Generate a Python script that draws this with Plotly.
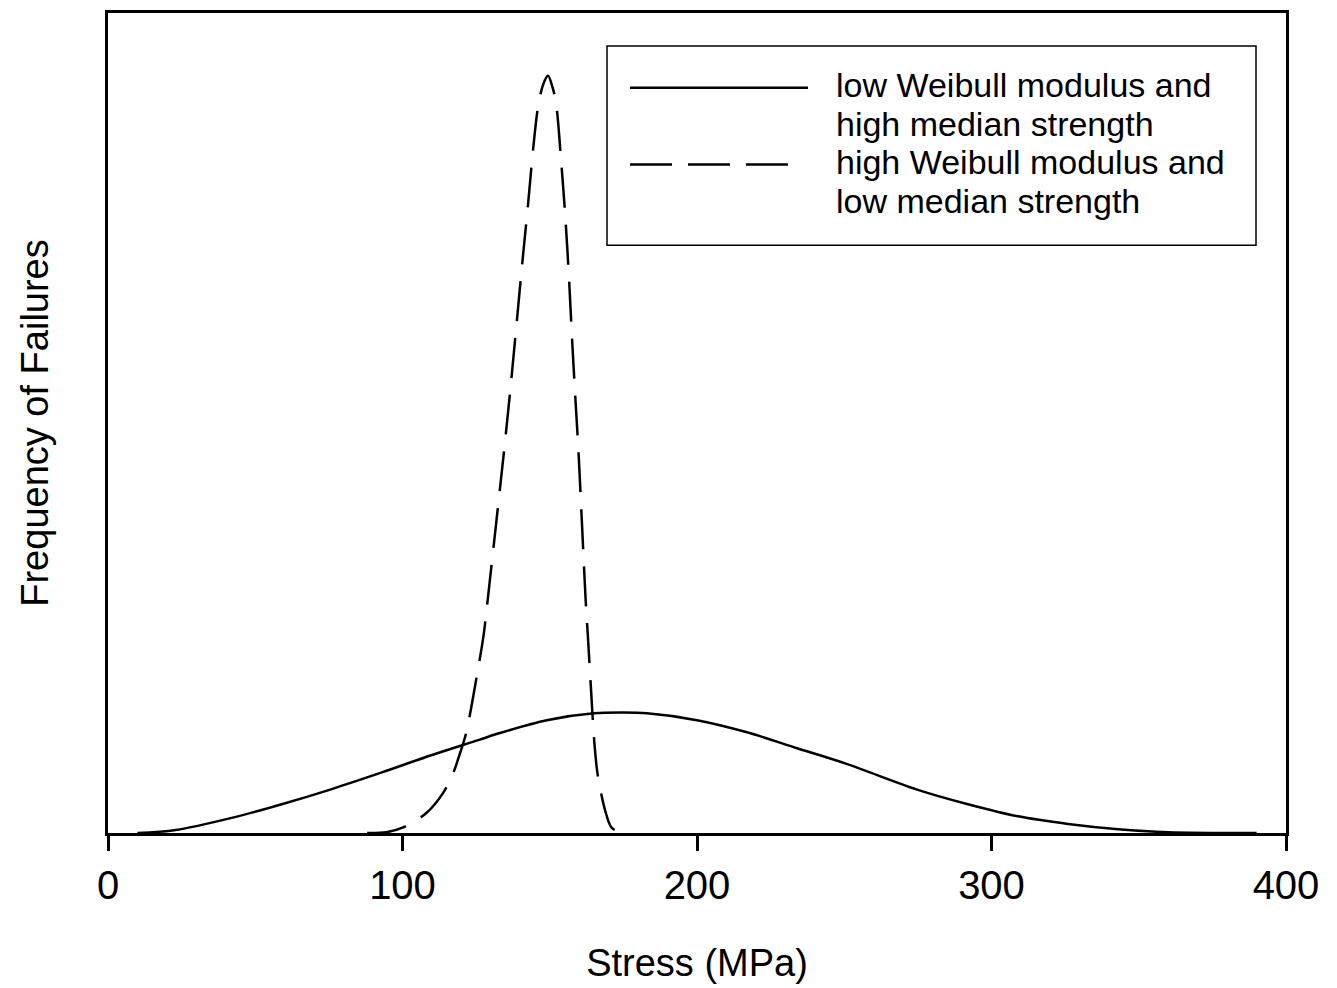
import plotly.graph_objects as go

# Stress (MPa) and relative failure frequency
low_m_stress = [10, 23, 42, 59, 76, 93, 110, 126, 133, 149, 165, 175, 183, 200, 217,
                234, 251, 275, 292, 309, 326, 343, 360, 390]
low_m_freq = [0.000, 0.004, 0.020, 0.038, 0.058, 0.080, 0.103, 0.123, 0.132, 0.149,
              0.158, 0.159, 0.158, 0.149, 0.133, 0.112, 0.091, 0.057, 0.038,
              0.022, 0.012, 0.005, 0.001, 0.000]

high_m_stress = [88, 94.5, 100, 108, 113.8, 117.2, 119.5, 121.6, 125.4, 127.6, 128.9,
                 134.9, 136.8, 138.8, 140.6, 142.6, 144.4, 146.1, 147.8, 149.4, 151,
                 152.2, 153.9, 155.4, 156.6, 157.6, 158.7, 159.7, 162.2, 162.9, 164.1,
                 165.1, 166.2, 168.8, 171, 174.5]
high_m_freq = [0.000, 0.001, 0.007, 0.026, 0.053, 0.079, 0.105, 0.132, 0.211, 0.263,
               0.307, 0.520, 0.593, 0.675, 0.750, 0.829, 0.905, 0.961, 0.989, 1.000,
               0.984, 0.962, 0.886, 0.807, 0.728, 0.651, 0.574, 0.508, 0.307, 0.263,
               0.184, 0.122, 0.079, 0.030, 0.007, 0.000]

x_ticks = [0, 100, 200, 300, 400]
legend_lines = ["low Weibull modulus and", "high median strength",
                "high Weibull modulus and", "low median strength"]

FONT = "Arial, Liberation Sans, sans-serif"

fig = go.Figure()
fig.add_trace(go.Scatter(x=low_m_stress, y=low_m_freq, mode="lines",
                         line=dict(color="black", width=2.5, shape="spline", smoothing=0.9),
                         name=legend_lines[0] + " " + legend_lines[1], showlegend=False))
fig.add_trace(go.Scatter(x=high_m_stress, y=high_m_freq, mode="lines",
                         line=dict(color="black", width=2.5, dash="40px,17px",
                                   shape="spline", smoothing=0.9),
                         name=legend_lines[2] + " " + legend_lines[3], showlegend=False))

# plot area in pixels: x 108..1286, y 10..833
L, R, T, B = 108, 1286, 10, 833
def px(x):
    return (x - L) / (R - L)
def py(y):
    return (B - y) / (B - T)

shapes = [
    dict(type="rect", xref="paper", yref="paper", x0=px(607), x1=px(1256),
         y0=py(243), y1=py(43), line=dict(color="black", width=1.5)),
    dict(type="line", xref="paper", yref="paper", x0=px(630), x1=px(808),
         y0=py(85), y1=py(85), line=dict(color="black", width=2.5)),
    dict(type="line", xref="paper", yref="paper", x0=px(630), x1=px(790),
         y0=py(162), y1=py(162), line=dict(color="black", width=2.5, dash="42px,16px")),
]
annotations = []
for i, t in enumerate(legend_lines):
    annotations.append(dict(xref="paper", yref="paper", x=px(834), y=py(82 + 39 * i),
                            text=t, showarrow=False, xanchor="left", yanchor="middle",
                            font=dict(family=FONT, size=34, color="black")))

fig.update_layout(
    width=1337, height=988,
    margin=dict(l=L, r=1337 - R, t=T, b=988 - B),
    paper_bgcolor="white", plot_bgcolor="white",
    shapes=shapes, annotations=annotations,
    showlegend=False,
    xaxis=dict(range=[0, 400], tickvals=x_ticks, ticks="outside", ticklen=15,
               tickwidth=2.5, tickcolor="black", showline=True, linecolor="black",
               linewidth=2.5, mirror=True, showgrid=False, zeroline=False,
               tickfont=dict(family=FONT, size=40, color="black"),
               title=dict(text="Stress (MPa)", font=dict(family=FONT, size=38, color="black"),
                          standoff=44)),
    yaxis=dict(range=[0, 1.083], showticklabels=False, ticks="", showline=True,
               linecolor="black", linewidth=2.5, mirror=True, showgrid=False,
               zeroline=False,
               title=dict(text="Frequency of Failures",
                          font=dict(family=FONT, size=38, color="black"), standoff=45)),
)

fig.write_html("out.html")
